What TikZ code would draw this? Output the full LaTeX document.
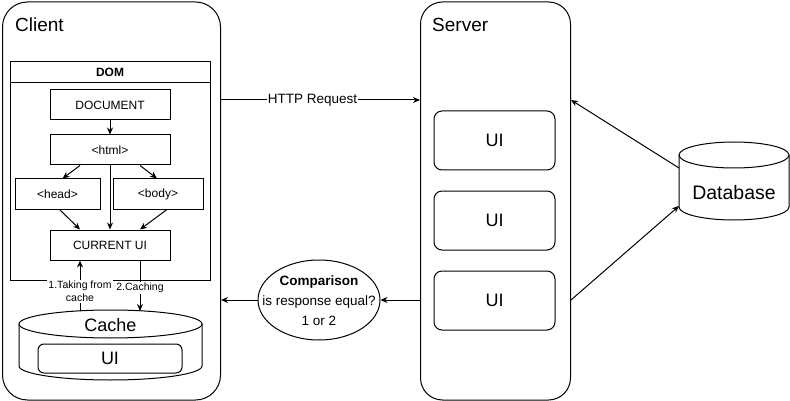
\documentclass[tikz,border=0pt]{standalone}
\usepackage{fontspec}
\setmainfont{Liberation Sans}
\usetikzlibrary{arrows.meta,calc,shapes.geometric}
\tikzset{
  ln/.style={line width=1pt},
  arr/.style={draw, line width=1pt, -{Stealth[length=7pt,width=6pt]}},
  box/.style={draw, line width=1pt, minimum width=120pt, minimum height=30pt, inner sep=0pt, font=\fontsize{12}{14}\selectfont},
  uibox/.style={draw, line width=1pt, rounded corners=8pt, minimum width=121pt, minimum height=59pt, inner sep=0pt, font=\fontsize{18}{20}\selectfont},
  lbl/.style={font=\fontsize{10.5}{13}\selectfont, fill=white, inner sep=1pt, align=center},
  title/.style={anchor=base west, inner sep=0pt, font=\fontsize{19}{22}\selectfont},
}
\begin{document}
\begin{tikzpicture}[x=1pt,y=-1pt]
\useasboundingbox (0,0) rectangle (790,401);
% containers
\node[draw, ln, rounded corners=25pt, minimum width=218pt, minimum height=398pt, anchor=north west, inner sep=0pt] (client) at (2,1.5) {};
\node[draw, ln, rounded corners=22pt, minimum width=150pt, minimum height=398pt, anchor=north west, inner sep=0pt] (server) at (420,1.5) {};
\node[title] (clientlbl) at (15,32) {Client};
\node[title] (serverlbl) at (432,32) {Server};
% DOM
\node[draw, ln, minimum width=200pt, minimum height=219pt, anchor=north west, inner sep=0pt] (dom) at (10,61) {};
\coordinate (domhl) at (10,83);
\coordinate (domhr) at (210,83);
\draw[ln] (domhl) -- (domhr);
\node[font=\bfseries\fontsize{12}{14}\selectfont] (domlbl) at (110,72) {DOM};
\node[box] (doc) at (110,105) {DOCUMENT};
\node[box] (html) at (110,150) {<html>};
\node[box, minimum width=85pt] (head) at (57.5,194) {<head>};
\node[box, minimum width=90pt] (body) at (158,194) {<body>};
\node[box] (cur) at (110,245) {CURRENT UI};
\draw[arr] (doc) -- (html);
\draw[arr] ([xshift=-30pt]html.south) -- ([xshift=5pt]head.north);
\draw[arr] ([xshift=30pt]html.south) -- ([xshift=-1pt]body.north);
\draw[arr] (html) -- (cur);
\draw[arr] ([xshift=2pt]head.south) -- ([xshift=-30pt]cur.north);
\draw[arr] ([xshift=9pt]body.south) -- ([xshift=30pt]cur.north);
% Cache cylinder
\coordinate (cTL) at (19,324);
\coordinate (cTR) at (202,324);
\coordinate (cBL) at (19,366);
\coordinate (cBR) at (202,366);
\draw[ln] (cTL) -- (cBL) arc[start angle=180, end angle=0, x radius=91.5, y radius=14] -- (cTR);
\draw[ln] (110.5,324) ellipse [x radius=91.5, y radius=14];
\node[font=\fontsize{18}{20}\selectfont] (cache) at (110.5,325) {Cache};
\node[draw, ln, rounded corners=6pt, minimum width=144pt, minimum height=29pt, inner sep=0pt, font=\fontsize{18}{20}\selectfont] (cacheui) at (110,358.5) {UI};
\coordinate (cacheA) at (80,311);
\coordinate (cacheB) at (140,311);
\draw[arr] (cacheA) -- node[lbl, pos=0.39] {1.Taking from\\cache} (cacheA |- cur.south);
\draw[arr] (cacheB |- cur.south) -- node[lbl, pos=0.55] {2.Caching} (cacheB);
% Server UIs
\node[uibox] (ui1) at (494.5,140.5) {UI};
\node[uibox] (ui2) at (494.5,220.5) {UI};
\node[uibox] (ui3) at (494.5,300.5) {UI};
% Database cylinder
\coordinate (dTL) at (679,155);
\coordinate (dTR) at (789,155);
\coordinate (dBL) at (679,207);
\draw[ln] (dTL) -- (dBL) arc[start angle=180, end angle=0, x radius=55, y radius=13] -- (dTR);
\draw[ln] (734,155) ellipse [x radius=55, y radius=13];
\node[font=\fontsize{19.5}{22}\selectfont] (db) at (734,193) {Database};
\coordinate (dbA) at (679,168);
\coordinate (dbB) at (679,206);
% Comparison
\node[draw, ln, ellipse, minimum width=122pt, minimum height=80pt, inner sep=0pt] (cmp) at (319,300) {};
\node[align=center, font=\fontsize{13.5}{20}\selectfont, inner sep=0pt] (cmptxt) at (319,301) {\textbf{Comparison}\\is response equal?\\1 or 2};
% connectors
\coordinate (yhttp) at (0,100);
\draw[arr] (client.east |- yhttp) -- node[fill=white, inner sep=1pt, pos=0.46, font=\fontsize{13.5}{16}\selectfont] {HTTP Request} (server.west |- yhttp);
\draw[arr] (server.west |- cmp) -- (cmp.east);
\draw[arr] (cmp.west) -- (client.east |- cmp);
\draw[arr] (dbA) -- (server.east |- yhttp);
\draw[arr] (server.east |- cmp) -- (dbB);
\end{tikzpicture}
\end{document}
